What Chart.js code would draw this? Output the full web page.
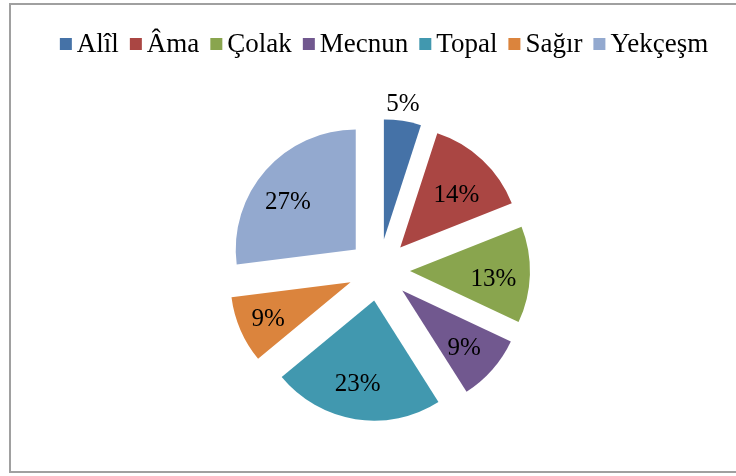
<!DOCTYPE html>
<html>
<head>
<meta charset="utf-8">
<script src="https://cdn.jsdelivr.net/npm/chart.js@4.4.1/dist/chart.umd.min.js"></script>
<style>
  html, body { margin: 0; padding: 0; background: #ffffff; }
  #wrap { width: 736px; height: 476px; }
</style>
</head>
<body>
<div id="wrap"><canvas id="c" width="736" height="476"></canvas></div>
<script>
const categories = ['Alîl', 'Âma', 'Çolak', 'Mecnun', 'Topal', 'Sağır', 'Yekçeşm'];
const percentages = [5, 14, 13, 9, 23, 9, 27];
const sliceColors = ['#4572A7', '#AA4643', '#89A54E', '#71588F', '#4198AF', '#DB843D', '#93A9CF'];

const EXPLODE = 31;
const FONT = 'Liberation Serif, "Times New Roman", serif';

const explodePlugin = {
  id: 'explode',
  beforeDatasetsDraw(chart) {
    chart.getDatasetMeta(0).data.forEach(arc => {
      if (arc._exploded) return;
      arc._exploded = true;
      const base = arc.draw;
      arc.draw = function (ctx, area) {
        const h = (this.startAngle + this.endAngle) / 2;
        ctx.save();
        ctx.translate(Math.cos(h) * EXPLODE, Math.sin(h) * EXPLODE);
        base.call(this, ctx, area);
        ctx.restore();
      };
    });
  }
};

const labelPlugin = {
  id: 'sliceLabels',
  afterDatasetsDraw(chart) {
    const ctx = chart.ctx;
    const ds = chart.data.datasets[0];
    ctx.save();
    ctx.font = '25px ' + FONT;
    ctx.fillStyle = '#000000';
    ctx.textAlign = 'center';
    ctx.textBaseline = 'middle';
    chart.getDatasetMeta(0).data.forEach((arc, i) => {
      const h = (arc.startAngle + arc.endAngle) / 2;
      const cx = arc.x + Math.cos(h) * EXPLODE;
      const cy = arc.y + Math.sin(h) * EXPLODE;
      const v = ds.data[i];
      let lx, ly;
      if (v < 6) {
        const r = arc.outerRadius + 15;
        lx = cx + Math.cos(h) * r - 2;
        ly = cy + Math.sin(h) * r - 2;
      } else {
        lx = cx + Math.cos(h) * arc.outerRadius * 0.72 - 3;
        ly = cy + Math.sin(h) * arc.outerRadius * 0.66 + 5.5;
      }
      ctx.fillText(v + '%', lx, ly);
    });
    ctx.restore();
  }
};

const frameLegendPlugin = {
  id: 'frameLegend',
  afterDraw(chart) {
    const ctx = chart.ctx;
    ctx.save();
    ctx.strokeStyle = '#a0a0a0';
    ctx.lineWidth = 2;
    ctx.strokeRect(10, 4, 740, 468);
    // legend
    ctx.font = '27px ' + FONT;
    ctx.textBaseline = 'middle';
    ctx.textAlign = 'left';
    const box = 12, gapText = 5, gapItem = 11;
    const widths = categories.map(t => ctx.measureText(t).width);
    const total = widths.reduce((a, w) => a + box + gapText + w, 0) + gapItem * (categories.length - 1);
    let x = 384 - total / 2;
    const y = 44;
    categories.forEach((t, i) => {
      ctx.fillStyle = sliceColors[i];
      ctx.fillRect(x, y - box / 2, box, box);
      ctx.fillStyle = '#000000';
      ctx.fillText(t, x + box + gapText, y + 1);
      x += box + gapText + widths[i] + gapItem;
    });
    ctx.restore();
  }
};

new Chart(document.getElementById('c'), {
  type: 'pie',
  data: {
    labels: categories,
    datasets: [{
      data: percentages,
      backgroundColor: sliceColors,
      borderWidth: 0
    }]
  },
  options: {
    responsive: false,
    devicePixelRatio: 1,
    animation: false,
    layout: { padding: { left: 259, right: 237, top: 150, bottom: 86 } },
    plugins: {
      legend: { display: false },
      tooltip: { enabled: false }
    }
  },
  plugins: [explodePlugin, labelPlugin, frameLegendPlugin]
});
</script>
</body>
</html>
